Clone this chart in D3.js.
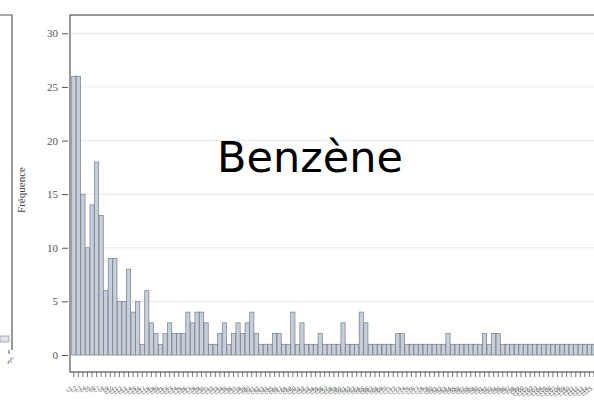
<!DOCTYPE html>
<html>
<head>
<meta charset="utf-8">
<script src="https://cdn.jsdelivr.net/npm/d3@7"></script>
<style>
  body { margin: 0; background: #fff; }
  svg { display: block; }
</style>
</head>
<body>
<div id="chart"></div>
<script>
// frequencies per category (right part is cropped)
const freqs = [26, 26, 15, 10, 14, 18, 13, 6, 9, 9, 5, 5, 8, 4, 5, 1, 6, 3, 2, 1,
  2, 3, 2, 2, 2, 4, 3, 4, 4, 3, 1, 1, 2, 3, 1, 2, 3, 2, 3, 4,
  2, 1, 1, 1, 2, 2, 1, 1, 4, 1, 3, 1, 1, 1, 2, 1, 1, 1, 1, 3,
  1, 1, 1, 4, 3, 1, 1, 1, 1, 1, 1, 2, 2, 1, 1, 1, 1, 1, 1, 1,
  1, 1, 2, 1, 1, 1, 1, 1, 1, 1, 2, 1, 2, 2, 1, 1, 1, 1, 1, 1,
  1, 1, 1, 1, 1, 1, 1, 1, 1, 1, 1, 1, 1, 1, 1];
const categories = freqs.map((d, i) => "c" + (i + 1));
const yTicks = [0, 5, 10, 15, 20, 25, 30];
const yLabel = "Fréquence";
const title = "Benzène";

const width = 594, height = 401;
const frame = {left: 70, top: 15, bottom: 372, right: 620};

const svg = d3.select("#chart").append("svg")
    .attr("width", width)
    .attr("height", height);

svg.append("rect").attr("width", width).attr("height", height).attr("fill", "#fff");

const x = d3.scaleBand()
    .domain(categories)
    .range([71.7, 71.7 + categories.length * 4.56])
    .paddingInner(0.08);

const y = d3.scaleLinear()
    .domain([0, 30])
    .range([355, 33.3]);

// gridlines
svg.append("g")
    .selectAll("line")
    .data(yTicks.slice(1))
    .join("line")
    .attr("x1", frame.left)
    .attr("x2", frame.right)
    .attr("y1", d => y(d))
    .attr("y2", d => y(d))
    .attr("stroke", "#e8e8e8")
    .attr("stroke-width", 1);

// bars
svg.append("g")
    .selectAll("rect")
    .data(freqs)
    .join("rect")
    .attr("x", (d, i) => x(categories[i]))
    .attr("width", x.bandwidth())
    .attr("y", d => y(d))
    .attr("height", d => y(0) - y(d))
    .attr("fill", "#c6cfdc")
    .attr("stroke", "#767b87")
    .attr("stroke-width", 0.7);

// frame
svg.append("rect")
    .attr("x", frame.left)
    .attr("y", frame.top)
    .attr("width", frame.right - frame.left)
    .attr("height", frame.bottom - frame.top)
    .attr("fill", "none")
    .attr("stroke", "#555")
    .attr("stroke-width", 1.2);

// y axis
const yAxis = svg.append("g")
    .attr("transform", `translate(${frame.left - 2},0)`)
    .call(d3.axisLeft(y).tickValues(yTicks).tickSize(6).tickPadding(4));
yAxis.select(".domain").remove();
yAxis.selectAll("line").attr("stroke", "#555");
yAxis.selectAll("text")
    .attr("font-family", "'Liberation Serif', 'DejaVu Serif', serif")
    .attr("font-size", 11)
    .attr("fill", "#555");

svg.append("text")
    .attr("transform", `translate(25,190) rotate(-90)`)
    .attr("text-anchor", "middle")
    .attr("font-family", "'Liberation Serif', 'DejaVu Serif', serif")
    .attr("font-size", 11)
    .attr("fill", "#444")
    .text(yLabel);

// x axis ticks + tiny rotated labels
const xAxis = svg.append("g")
    .attr("transform", `translate(0,${frame.bottom})`)
    .call(d3.axisBottom(x).tickSize(5).tickPadding(2));
xAxis.select(".domain").remove();
xAxis.selectAll("line").attr("stroke", "#555").attr("stroke-width", 0.8);
xAxis.selectAll("text")
    .attr("font-family", "'Liberation Sans', sans-serif")
    .attr("font-size", 6)
    .attr("fill", "#666")
    .attr("text-anchor", "end")
    .attr("dy", "0.3em")
    .attr("transform", "translate(-6,10) rotate(-35)");

// partial left panel (cropped)
const left = svg.append("g");
left.append("path")
    .attr("d", "M0,15H12V350")
    .attr("fill", "none")
    .attr("stroke", "#555")
    .attr("stroke-width", 1.2);
left.append("rect")
    .attr("x", 0).attr("y", 336)
    .attr("width", 9).attr("height", 6)
    .attr("fill", "#dfe4ec")
    .attr("stroke", "#8a8f99")
    .attr("stroke-width", 0.7);
left.append("line")
    .attr("x1", 9).attr("x2", 9).attr("y1", 350).attr("y2", 354)
    .attr("stroke", "#555");
left.append("text")
    .attr("x", 9).attr("y", 364)
    .attr("text-anchor", "middle")
    .attr("font-family", "'Liberation Serif', serif")
    .attr("font-style", "italic")
    .attr("font-size", 9)
    .attr("fill", "#555")
    .text("ℰ");

// title
svg.append("text")
    .attr("x", 310)
    .attr("y", 172)
    .attr("text-anchor", "middle")
    .attr("font-family", "'DejaVu Sans', sans-serif")
    .attr("font-size", 43)
    .attr("fill", "#000")
    .text(title);
</script>
</body>
</html>
